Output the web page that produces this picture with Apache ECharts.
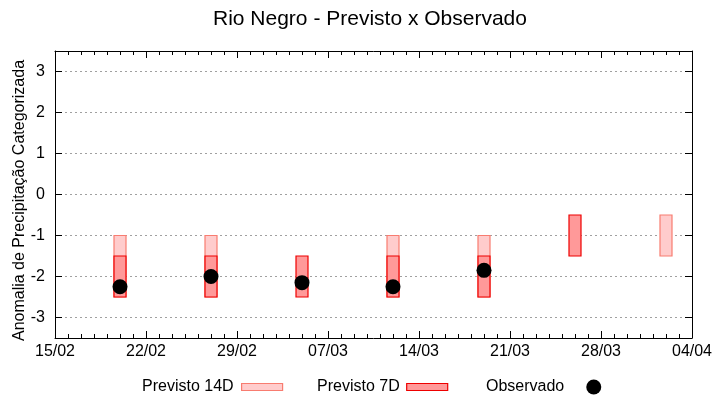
<!DOCTYPE html>
<html>
<head>
<meta charset="utf-8">
<script src="https://cdn.jsdelivr.net/npm/echarts@6/dist/echarts.min.js"></script>
<style>html,body{margin:0;padding:0;background:#fff}#c{width:720px;height:400px}</style>
</head>
<body>
<div id="c"></div>
<script>
var baseDate = '2024-02-15';
var xTickLabels = ['15/02','22/02','29/02','07/03','14/03','21/03','28/03','04/04'];
var dates = ['2024-02-20','2024-02-27','2024-03-05','2024-03-12','2024-03-19','2024-03-26','2024-04-02'];
var prev14Low  = [-2.5, -2.5, null, -2.5, -2.5, null, -1.5];
var prev14High = [-1.0, -1.0, null, -1.0, -1.0, null, -0.5];
var prev7Low   = [-2.5, -2.5, -2.5, -2.5, -2.5, -1.5, null];
var prev7High  = [-1.5, -1.5, -1.5, -1.5, -1.5, -0.5, null];
var observed   = [-2.25, -2.0, -2.15, -2.25, -1.85, null, null];

function dayOffset(d){
  var a = d.split('-'), b = baseDate.split('-');
  return (Date.UTC(+a[0], +a[1]-1, +a[2]) - Date.UTC(+b[0], +b[1]-1, +b[2])) / 86400000;
}
var xs = dates.map(dayOffset);

function boxData(lo, hi){
  var out = [];
  for (var i = 0; i < xs.length; i++) if (lo[i] !== null) out.push([xs[i], lo[i], hi[i]]);
  return out;
}
var obsData = [];
for (var i = 0; i < xs.length; i++) if (observed[i] !== null) obsData.push([xs[i], observed[i]]);

function boxRenderer(fill, stroke){
  return function(params, api){
    var x = api.value(0);
    var p1 = api.coord([x, api.value(2)]);
    var p2 = api.coord([x, api.value(1)]);
    var w = 12;
    return {
      type: 'rect',
      shape: {x: p1[0] - w/2, y: p1[1], width: w, height: p2[1] - p1[1]},
      style: {fill: fill, stroke: stroke, lineWidth: 1.2}
    };
  };
}

var FONT = 'Liberation Sans, Arial, sans-serif';
var c14 = {fill: '#ffcccc', stroke: '#f87c70'};
var c7 = {fill: '#ff9999', stroke: '#ee0000'};

var xBase = {
  type: 'value', min: 0, max: 49, interval: 7,
  axisLine: {show: true, onZero: false, lineStyle: {color: '#000', width: 1}},
  axisTick: {show: true, inside: true, length: 7, lineStyle: {color: '#000'}},
  minorTick: {show: true, splitNumber: 7, length: 4, lineStyle: {color: '#000'}},
  splitLine: {show: false},
  minorSplitLine: {show: false}
};
var yBase = {
  type: 'value', min: -3.5, max: 3.5, splitNumber: 7,
  axisLine: {show: true, onZero: false, lineStyle: {color: '#000', width: 1}},
  axisTick: {show: true, inside: true, length: 7, lineStyle: {color: '#000'}}
};

var option = {
  animation: false,
  backgroundColor: '#fff',
  title: {
    text: 'Rio Negro - Previsto x Observado',
    left: 213, top: 9, padding: 0,
    textStyle: {fontFamily: FONT, fontSize: 21, fontWeight: 'normal', color: '#000'}
  },
  legend: [
    {
      left: 142, top: 379, padding: 0, align: 'right', itemWidth: 41, itemHeight: 7,
      textStyle: {fontFamily: FONT, fontSize: 16, color: '#000', padding: [0, 3, 0, 0]},
      data: [{name: 'Previsto 14D', icon: 'rect', itemStyle: {color: c14.fill, borderColor: c14.stroke, borderWidth: 1.2}}]
    },
    {
      left: 317, top: 379, padding: 0, align: 'right', itemWidth: 41, itemHeight: 7,
      textStyle: {fontFamily: FONT, fontSize: 16, color: '#000', padding: [0, 2, 0, 0]},
      data: [{name: 'Previsto 7D', icon: 'rect', itemStyle: {color: c7.fill, borderColor: c7.stroke, borderWidth: 1.2}}]
    },
    {
      left: 486, top: 379, padding: 0, align: 'right', itemWidth: 15, itemHeight: 15,
      textStyle: {fontFamily: FONT, fontSize: 16, color: '#000', padding: [0, 17, 0, 0]},
      data: [{name: 'Observado', icon: 'circle', itemStyle: {color: '#000', opacity: 1}}]
    }
  ],
  grid: {left: 55, right: 28, top: 51, bottom: 62, outerBoundsMode: 'none', containLabel: false},
  xAxis: [
    Object.assign({}, xBase, {
      position: 'bottom',
      axisLabel: {
        margin: 6, fontFamily: FONT, fontSize: 16, color: '#000',
        formatter: function(v){ return xTickLabels[Math.round(v / 7)] || ''; }
      }
    }),
    Object.assign({}, xBase, {position: 'top', axisLabel: {show: false}})
  ],
  yAxis: [
    Object.assign({}, yBase, {
      position: 'left',
      name: 'Anomalia de Precipitação Categorizada',
      nameLocation: 'middle', nameGap: 27, nameMoveOverlap: false,
      nameTextStyle: {fontFamily: FONT, fontSize: 16, color: '#000', padding: [0, 12, 0, 0]},
      axisLabel: {
        margin: 10, fontFamily: FONT, fontSize: 16, color: '#000',
        showMinLabel: false, showMaxLabel: false,
        formatter: function(v){ return Math.abs(v % 1) < 1e-9 ? String(v) : ''; }
      },
      splitLine: {show: true, lineStyle: {color: '#a0a0a0', width: 1, type: [2, 3]}}
    }),
    Object.assign({}, yBase, {
      position: 'right',
      axisLabel: {show: false},
      splitLine: {show: false}
    })
  ],
  series: [
    {
      name: 'Previsto 14D', type: 'custom', xAxisIndex: 0, yAxisIndex: 0,
      renderItem: boxRenderer(c14.fill, c14.stroke),
      itemStyle: {color: c14.fill, borderColor: c14.stroke},
      encode: {x: 0, y: [1, 2]},
      data: boxData(prev14Low, prev14High), z: 2
    },
    {
      name: 'Previsto 7D', type: 'custom', xAxisIndex: 0, yAxisIndex: 0,
      renderItem: boxRenderer(c7.fill, c7.stroke),
      itemStyle: {color: c7.fill, borderColor: c7.stroke},
      encode: {x: 0, y: [1, 2]},
      data: boxData(prev7Low, prev7High), z: 3
    },
    {
      name: 'Observado', type: 'scatter', xAxisIndex: 0, yAxisIndex: 0,
      symbol: 'circle', symbolSize: 15,
      itemStyle: {color: '#000', opacity: 1},
      data: obsData, z: 4
    }
  ]
};
var chart = echarts.init(document.getElementById('c'), null, {renderer: 'canvas'});
chart.setOption(option);
</script>
</body>
</html>
